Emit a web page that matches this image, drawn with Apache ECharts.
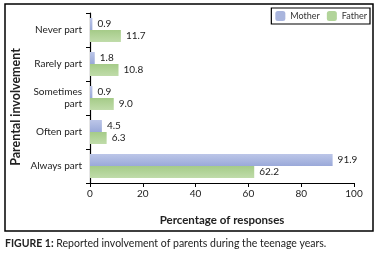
<!DOCTYPE html>
<html>
<head>
<meta charset="utf-8">
<script src="https://cdn.jsdelivr.net/npm/echarts@6/dist/echarts.min.js"></script>
<style>
html, body { margin: 0; padding: 0; background: #fff; }
#chart { width: 380px; height: 253px; }
</style>
</head>
<body>
<div id="chart"></div>
<script>
var categories = ['Always part', 'Often part', 'Sometimes\npart', 'Rarely part', 'Never part'];
var mother = [91.9, 4.5, 0.9, 1.8, 0.9];
var father = [62.2, 6.3, 9.0, 10.8, 11.7];
var xTicks = [0, 20, 40, 60, 80, 100];

var font = 'Lato';
var mychart = echarts.init(document.getElementById('chart'));

function grad(top, bottom) {
    return new echarts.graphic.LinearGradient(0, 0, 0, 1, [
        { offset: 0, color: top },
        { offset: 1, color: bottom }
    ]);
}

mychart.setOption({
    animation: false,
    textStyle: { fontFamily: font },
    grid: { left: 90, right: 26, top: 13, bottom: 70 },
    legend: {
        right: 10,
        top: 8,
        itemWidth: 10,
        itemHeight: 10,
        itemGap: 7,
        padding: [3, 3, 3, 4],
        borderColor: '#000',
        borderWidth: 1.2,
        textStyle: { fontSize: 9, color: '#333', fontFamily: font },
        data: [
            { name: 'Mother', itemStyle: { color: '#a9b5dd' } },
            { name: 'Father', itemStyle: { color: '#b2d49a' } }
        ]
    },
    xAxis: {
        type: 'value',
        min: 0,
        max: 100,
        interval: xTicks[1] - xTicks[0],
        name: 'Percentage of responses',
        nameLocation: 'middle',
        nameGap: 31,
        nameTextStyle: { fontWeight: 'bold', fontSize: 11.5, color: '#222' },
        axisLine: { show: true, lineStyle: { color: '#000', width: 1.2 } },
        axisTick: { show: true, length: 4, lineStyle: { color: '#000' } },
        axisLabel: { fontSize: 10, color: '#222', margin: 6 },
        splitLine: { show: false }
    },
    yAxis: {
        type: 'category',
        data: categories,
        axisLine: { show: true, lineStyle: { color: '#000', width: 1.2 } },
        axisTick: { show: true, length: 4, alignWithLabel: false, lineStyle: { color: '#000' } },
        axisLabel: { fontSize: 10, color: '#222', margin: 8, align: 'right', lineHeight: 12 }
    },
    series: [{
        name: 'Mother',
        type: 'bar',
        data: mother,
        barWidth: 12,
        barGap: '0%',
        itemStyle: { color: grad('#bcc6e8', '#9aa9d9') },
        label: { show: true, position: 'right', distance: 5, fontSize: 10, color: '#222',
            formatter: function (p) { return p.value.toFixed(1); } }
    }, {
        name: 'Father',
        type: 'bar',
        data: father,
        barWidth: 12,
        barGap: '0%',
        itemStyle: { color: grad('#a5cb88', '#c0dcaa') },
        label: { show: true, position: 'right', distance: 5, fontSize: 10, color: '#222',
            formatter: function (p) { return p.value.toFixed(1); } }
    }],
    graphic: [{
        type: 'rect',
        shape: { x: 5, y: 4, width: 368, height: 227 },
        style: { fill: null, stroke: '#000', lineWidth: 1.5 },
        silent: true
    }, {
        type: 'text',
        x: 16,
        y: 107,
        rotation: Math.PI / 2,
        style: {
            text: 'Parental involvement',
            fontFamily: font,
            fontWeight: 'bold',
            fontSize: 12.5,
            fill: '#222',
            align: 'center',
            verticalAlign: 'middle'
        }
    }, {
        type: 'text',
        left: 5,
        top: 238,
        style: {
            text: '{b|FIGURE 1:} Reported involvement of parents during the teenage years.',
            fontFamily: font,
            fontSize: 10.5,
            fill: '#222',
            rich: { b: { fontWeight: 'bold', fontSize: 10.5, fontFamily: font, fill: '#222' } }
        }
    }]
});
</script>
</body>
</html>
